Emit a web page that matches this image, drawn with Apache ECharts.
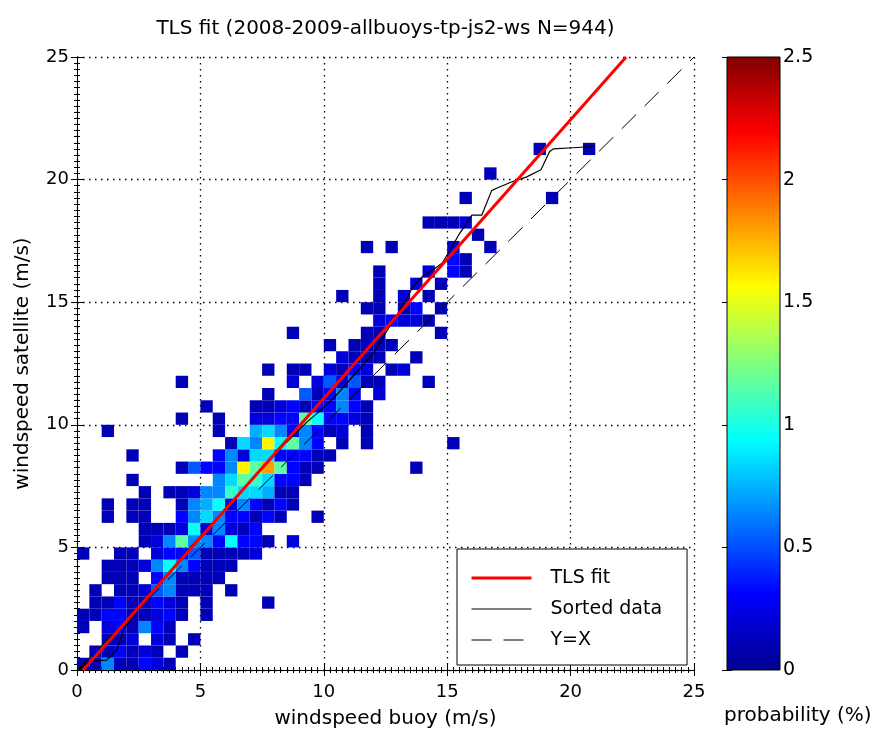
<!DOCTYPE html>
<html><head><meta charset="utf-8">
<script src="https://cdn.jsdelivr.net/npm/echarts/dist/echarts.min.js"></script>
<style>html,body{margin:0;padding:0;background:#fff;}#c{width:874px;height:736px;}</style>
</head><body><div id="c"></div>
<script>
// ---------- DATA ----------
const titleText = 'TLS fit (2008-2009-allbuoys-tp-js2-ws N=944)';
const xName = 'windspeed buoy (m/s)';
const yName = 'windspeed satellite (m/s)';
const cbName = 'probability (%)';
const legendNames = ['TLS fit', 'Sorted data', 'Y=X'];
const axisTicks = [0, 5, 10, 15, 20, 25];
const cbTicks = [0, 0.5, 1, 1.5, 2, 2.5];
const binWidth = 0.5;
// cells: [buoy bin start, satellite bin start, probability %]
const cellsY0to2 = [
 [0,0,0.11],[0.5,0,0.11],[1,0,0.64],[1.5,0,0.11],[2,0,0.11],[2.5,0,0.32],[3,0,0.21],[3.5,0,0.11],
 [0.5,0.5,0.11],[1,0.5,0.11],[1.5,0.5,0.32],[2,0.5,0.11],[2.5,0.5,0.21],[3,0.5,0.11],[4,0.5,0.11],
 [1,1,0.11],[1.5,1,0.11],[2,1,0.21],[3,1,0.21],[3.5,1,0.11],[4.5,1,0.11],
 [0,1.5,0.11],[1,1.5,0.21],[1.5,1.5,0.32],[2,1.5,0.11],[2.5,1.5,0.64],[3,1.5,0.32],[3.5,1.5,0.11]
];
const cellsY2to5 = [
 [0,2,0.11],[0.5,2,0.11],[1,2,0.32],[1.5,2,0.32],[2,2,0.11],[2.5,2,0.11],[3,2,0.21],[3.5,2,0.32],[4,2,0.11],[5,2,0.11],
 [0.5,2.5,0.11],[1,2.5,0.11],[1.5,2.5,0.32],[2,2.5,0.11],[2.5,2.5,0.11],[3,2.5,0.32],[3.5,2.5,0.21],[4,2.5,0.11],[5,2.5,0.11],[7.5,2.5,0.11],
 [0.5,3,0.11],[1.5,3,0.11],[2,3,0.11],[2.5,3,0.21],[3,3,0.53],[3.5,3,0.64],[4,3,0.11],[4.5,3,0.11],[5,3,0.11],[6,3,0.11],
 [1,3.5,0.11],[1.5,3.5,0.11],[2,3.5,0.11],[3,3.5,0.32],[3.5,3.5,0.64],[4,3.5,0.11],[4.5,3.5,0.11],[5,3.5,0.11],[5.5,3.5,0.11],
 [1,4,0.11],[1.5,4,0.11],[2,4,0.11],[2.5,4,0.21],[3,4,0.64],[3.5,4,0.95],[4,4,0.64],[4.5,4,0.32],[5,4,0.11],[5.5,4,0.11],[6,4,0.11],
 [0,4.5,0.11],[1.5,4.5,0.11],[2,4.5,0.11],[3,4.5,0.21],[3.5,4.5,0.32],[4,4.5,0.32],[4.5,4.5,0.53],[5,4.5,0.11],[5.5,4.5,0.11],[6,4.5,0.11],[6.5,4.5,0.11],[7,4.5,0.21]
];
const cellsY5to8 = [
 [2.5,5,0.11],[3,5,0.21],[3.5,5,0.64],[4,5,1.17],[4.5,5,0.64],[5,5,0.64],[5.5,5,0.32],[6,5,0.95],[6.5,5,0.32],[7,5,0.32],[7.5,5,0.11],[8.5,5,0.21],
 [2.5,5.5,0.11],[3,5.5,0.11],[3.5,5.5,0.11],[4,5.5,0.21],[4.5,5.5,0.95],[5,5.5,0.21],[5.5,5.5,0.64],[6,5.5,0.21],[6.5,5.5,0.11],[7,5.5,0.32],
 [1,6,0.11],[2,6,0.11],[2.5,6,0.11],[4,6,0.32],[4.5,6,0.64],[5,6,0.85],[5.5,6,0.64],[6,6,0.32],[6.5,6,0.32],[7,6,0.11],[7.5,6,0.32],[8,6,0.11],[9.5,6,0.11],
 [1,6.5,0.11],[2,6.5,0.11],[2.5,6.5,0.11],[4,6.5,0.11],[4.5,6.5,0.64],[5,6.5,0.74],[5.5,6.5,0.95],[6,6.5,0.21],[6.5,6.5,0.64],[7,6.5,0.32],[7.5,6.5,0.11],[8,6.5,0.32],[8.5,6.5,0.11],
 [2.5,7,0.11],[3.5,7,0.11],[4,7,0.11],[4.5,7,0.21],[5,7,0.64],[5.5,7,0.64],[6,7,1.06],[6.5,7,0.85],[7,7,0.85],[7.5,7,0.74],[8,7,0.11],[8.5,7,0.11],
 [2,7.5,0.11],[5.5,7.5,0.64],[6,7.5,0.85],[6.5,7.5,1.17],[7,7.5,1.06],[7.5,7.5,0.85],[8,7.5,0.32],[8.5,7.5,0.32],[9,7.5,0.11]
];
const cellsY8to11 = [
 [4,8,0.11],[4.5,8,0.53],[5,8,0.32],[5.5,8,0.32],[6,8,0.64],[6.5,8,1.59],[7,8,1.17],[7.5,8,1.8],[8,8,1.17],[8.5,8,0.32],[9,8,0.11],[9.5,8,0.11],[13.5,8,0.11],
 [2,8.5,0.11],[5.5,8.5,0.32],[6,8.5,0.64],[6.5,8.5,0.21],[7,8.5,0.85],[7.5,8.5,0.85],[8,8.5,0.32],[8.5,8.5,0.32],[9,8.5,0.32],[9.5,8.5,0.11],[10,8.5,0.11],
 [6,9,0.11],[6.5,9,0.85],[7,9,0.64],[7.5,9,1.59],[8,9,0.95],[8.5,9,1.17],[9,9,0.64],[9.5,9,0.32],[10.5,9,0.11],[11.5,9,0.11],[15,9,0.11],
 [1,9.5,0.11],[5.5,9.5,0.11],[7,9.5,0.74],[7.5,9.5,0.85],[8,9.5,0.64],[8.5,9.5,0.32],[9,9.5,0.64],[9.5,9.5,0.32],[10,9.5,0.11],[10.5,9.5,0.21],[11.5,9.5,0.11],
 [4,10,0.11],[5.5,10,0.11],[7,10,0.21],[7.5,10,0.21],[8,10,0.32],[8.5,10,0.32],[9,10,1.17],[9.5,10,0.95],[10,10,0.32],[10.5,10,0.32],[11,10,0.21],[11.5,10,0.11],
 [5,10.5,0.11],[7,10.5,0.11],[7.5,10.5,0.11],[8,10.5,0.21],[8.5,10.5,0.32],[9,10.5,0.11],[9.5,10.5,0.32],[10,10.5,0.32],[10.5,10.5,0.64],[11,10.5,0.32],[11.5,10.5,0.11]
];
const cellsY11to15 = [
 [7.5,11,0.11],[9,11,0.53],[9.5,11,0.11],[10,11,0.32],[10.5,11,0.64],[11,11,0.32],[12,11,0.21],
 [4,11.5,0.11],[8.5,11.5,0.21],[9.5,11.5,0.21],[10,11.5,0.53],[10.5,11.5,0.21],[11,11.5,0.53],[11.5,11.5,0.11],[12,11.5,0.11],[14,11.5,0.11],
 [7.5,12,0.11],[8.5,12,0.11],[9,12,0.11],[10,12,0.21],[10.5,12,0.11],[11,12,0.32],[11.5,12,0.21],[12.5,12,0.11],[13,12,0.21],
 [10.5,12.5,0.21],[11,12.5,0.11],[11.5,12.5,0.11],[12,12.5,0.11],[13.5,12.5,0.11],
 [10,13,0.11],[11,13,0.11],[11.5,13,0.11],[12,13,0.11],[12.5,13,0.11],
 [8.5,13.5,0.11],[11.5,13.5,0.11],[12,13.5,0.11],[14.5,13.5,0.11],
 [12,14,0.21],[12.5,14,0.32],[13,14,0.21],[13.5,14,0.21],[14,14,0.11],
 [11.5,14.5,0.11],[12,14.5,0.11],[13,14.5,0.11],[13.5,14.5,0.32],[14.5,14.5,0.11]
];
const cellsY15up = [
 [10.5,15,0.11],[12,15,0.11],[13,15,0.21],[14,15,0.11],
 [12,15.5,0.11],[13.5,15.5,0.21],[14.5,15.5,0.11],
 [12,16,0.11],[14,16,0.21],[15,16,0.32],[15.5,16,0.11],
 [15,16.5,0.32],[15.5,16.5,0.11],
 [11.5,17,0.11],[12.5,17,0.11],[15,17,0.21],[16.5,17,0.11],
 [16,17.5,0.11],
 [14,18,0.11],[14.5,18,0.11],[15,18,0.11],[15.5,18,0.21],
 [15.5,19,0.11],[19,19,0.11],
 [16.5,20,0.11],
 [18.5,21,0.11],[20.5,21,0.11]
];
const tlsFit = [[0.25, 0], [22.25, 25]];
const identity = [[0, 0], [25, 25]];
const sortedBuoy = [0.1,0.5,1.2,1.6,1.9,2.5,3.5,4.5,5.5,6.5,7.5,8.5,9.3,10.0,10.5,11.2,12.0,12.6,13.1,13.6,14.0,14.4,14.8,15.1,15.5,15.9,16.0,16.4,16.8,17.0,17.6,18.2,18.8,19.15,19.3,20.1,20.9];
const sortedSat  = [0.05,0.35,0.4,0.8,1.7,2.5,3.7,4.9,6.0,7.1,8.2,9.3,10.1,10.7,11.2,12.0,12.9,13.9,14.7,15.6,16.05,16.3,16.6,17.1,17.8,18.4,18.55,18.55,19.55,19.65,19.9,20.1,20.4,21.15,21.25,21.3,21.35];
const jetColors = ['#00008F','#0000FF','#0080FF','#00FFFF','#80FF80','#FFFF00','#FF8000','#FF0000','#800000'];
const cbRange = [0, 2.5];

// ---------- BUILD ----------
const cells = [].concat(cellsY0to2, cellsY2to5, cellsY5to8, cellsY8to11, cellsY11to15, cellsY15up);
const sortedData = sortedBuoy.map((b, k) => [b, sortedSat[k]]);
const FONT = 'DejaVu Sans';
const chart = echarts.init(document.getElementById('c'), null, {renderer: 'canvas'});

const dotted = {color: '#000', width: 1.3, type: [1.5, 4.5]};
function baseValAxis(extra) {
  return Object.assign({
    type: 'value', min: axisTicks[0], max: axisTicks[axisTicks.length - 1], interval: 5,
    axisLine: {show: true, lineStyle: {color: '#000', width: 1}},
    axisTick: {show: true, inside: true, length: 6, lineStyle: {color: '#000'}},
    minorTick: {show: true, splitNumber: 20, length: 3, lineStyle: {color: '#000'}},
    splitLine: {show: false}, axisLabel: {show: false}
  }, extra);
}

const option = {
  animation: false,
  backgroundColor: '#fff',
  grid: [
    {left: 77, top: 57, width: 617, height: 613, show: false},
    {left: 727, top: 57, width: 53, height: 613, show: false}
  ],
  xAxis: [
    baseValAxis({gridIndex: 0, position: 'bottom',
      splitLine: {show: true, lineStyle: dotted},
      axisLabel: {show: true, color: '#000', fontFamily: FONT, fontSize: 18, margin: 13},
      name: xName, nameLocation: 'middle', nameGap: 39,
      nameTextStyle: {color: '#000', fontFamily: FONT, fontSize: 20}}),
    baseValAxis({gridIndex: 0, position: 'top',
      name: titleText, nameLocation: 'middle', nameGap: 18,
      nameTextStyle: {color: '#000', fontFamily: FONT, fontSize: 20}}),
    {type: 'value', gridIndex: 1, min: 0, max: 1, show: false}
  ],
  yAxis: [
    baseValAxis({gridIndex: 0, position: 'left',
      splitLine: {show: true, lineStyle: dotted},
      axisLabel: {show: true, color: '#000', fontFamily: FONT, fontSize: 18, margin: 8},
      name: yName, nameLocation: 'middle', nameGap: 44,
      nameTextStyle: {color: '#000', fontFamily: FONT, fontSize: 20}}),
    baseValAxis({gridIndex: 0, position: 'right'}),
    {type: 'value', gridIndex: 1, position: 'right', min: cbRange[0], max: cbRange[1], interval: 0.5,
      axisLine: {show: false},
      axisTick: {show: true, inside: true, length: 5, lineStyle: {color: '#000'}},
      splitLine: {show: false},
      axisLabel: {show: true, color: '#000', fontFamily: FONT, fontSize: 19, margin: 3}},
    {type: 'value', gridIndex: 1, position: 'left', min: cbRange[0], max: cbRange[1], interval: 0.5,
      axisLine: {show: false},
      axisTick: {show: true, inside: true, length: 5, lineStyle: {color: '#000'}},
      splitLine: {show: false}, axisLabel: {show: false}}
  ],
  visualMap: {
    type: 'continuous', show: false, min: cbRange[0], max: cbRange[1],
    dimension: 2, seriesIndex: 0, inRange: {color: jetColors}
  },
  legend: {
    data: legendNames, orient: 'vertical', left: 457, top: 549,
    padding: [19, 25, 15, 13], itemGap: 11, itemWidth: 60, itemHeight: 14,
    backgroundColor: '#fff', borderColor: '#000', borderWidth: 1, borderRadius: 0,
    itemStyle: {opacity: 0, borderWidth: 0},
    lineStyle: {width: 'inherit'},
    textStyle: {color: '#000', fontFamily: FONT, fontSize: 19, lineHeight: 20, padding: [0, 0, 0, 14]}
  },
  graphic: [{
    type: 'text', left: 724, top: 706, z: 10,
    style: {text: cbName, fill: '#000', font: '20px "DejaVu Sans"'}
  }],
  series: [
    {
      type: 'custom', name: 'cells', xAxisIndex: 0, yAxisIndex: 0, clip: true,
      dimensions: ['x', 'y', 'p'], encode: {x: 0, y: 1},
      data: cells,
      renderItem: function (params, api) {
        const x = api.value(0), y = api.value(1);
        const a = api.coord([x, y + binWidth]);
        const b = api.coord([x + binWidth, y]);
        return {type: 'rect', shape: {x: a[0], y: a[1], width: b[0] - a[0], height: b[1] - a[1]},
          style: {fill: api.visual('color'), stroke: null}};
      }
    },
    {
      type: 'custom', name: 'colorbar', xAxisIndex: 2, yAxisIndex: 2, silent: true,
      data: [[0, cbRange[0], 1, cbRange[1]]],
      renderItem: function (params, api) {
        const a = api.coord([api.value(0), api.value(3)]);
        const b = api.coord([api.value(2), api.value(1)]);
        const stops = jetColors.map((c, k) => ({offset: 1 - k / (jetColors.length - 1), color: c}));
        stops.reverse();
        return {type: 'rect', shape: {x: a[0], y: a[1], width: b[0] - a[0], height: b[1] - a[1]},
          style: {fill: new echarts.graphic.LinearGradient(0, 0, 0, 1, stops), stroke: '#000', lineWidth: 1}};
      }
    },
    {
      type: 'line', name: 'TLS fit', data: tlsFit, xAxisIndex: 0, yAxisIndex: 0,
      symbol: 'none', clip: true, lineStyle: {color: '#FF0000', width: 3}, itemStyle: {color: '#FF0000'}, z: 5
    },
    {
      type: 'line', name: 'Sorted data', data: sortedData, xAxisIndex: 0, yAxisIndex: 0,
      symbol: 'none', clip: true, lineStyle: {color: '#000', width: 1.2}, itemStyle: {color: '#000'}, z: 4
    },
    {
      type: 'line', name: 'Y=X', data: identity, xAxisIndex: 0, yAxisIndex: 0,
      symbol: 'none', clip: true, lineStyle: {color: '#000', width: 1, type: [20, 12]}, itemStyle: {color: '#000'}, z: 3
    }
  ]
};
chart.setOption(option);
</script>
</body></html>
